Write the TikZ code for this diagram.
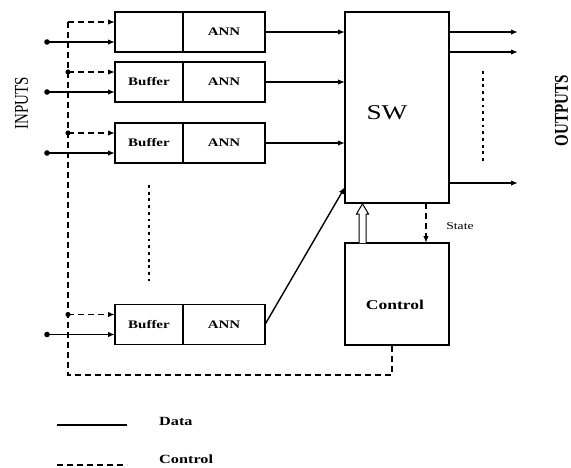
\documentclass[tikz,border=0pt]{standalone}
\usepackage{fontspec}
\setmainfont{Liberation Serif}
\newfontfamily\stf[FakeStretch=1.3]{Liberation Serif}
\usetikzlibrary{arrows.meta}
\begin{document}
\begin{tikzpicture}[x=1pt,y=-1pt,
  blk/.style={draw,line width=1.5pt,minimum height=40pt,inner sep=0pt,outer sep=0pt},
  bigblk/.style={draw,line width=1.5pt,inner sep=0pt,outer sep=0pt},
  lbl/.style={font=\stf\bfseries\fontsize{11.5}{12}\selectfont},
  dataline/.style={line width=1.4pt},
  ctrlline/.style={line width=1.4pt,dash pattern=on 6pt off 4pt},
  arr/.style={-{Latex[length=7pt,width=5.5pt]}},
  dotcol/.style={line width=2.8pt,dash pattern=on 2.8pt off 3.9pt},
  jdot/.style={fill=black}]
\useasboundingbox (0,0) rectangle (571,467);
% rows
\foreach \i/\c in {1/32,2/82,3/143,4/324.5}{
  \node[blk,minimum width=68pt] (buf\i) at (149,\c) {};
  \node[blk,minimum width=82pt] (ann\i) at (224,\c) {};
  \coordinate (in\i) at (47,\c+10);
  \coordinate (d\i) at (68,\c-10);
}
\foreach \i in {2,3,4}{ \node[lbl] (bt\i) at (buf\i) {Buffer}; }
\foreach \i in {1,2,3,4}{ \node[lbl] (at\i) at (ann\i) {ANN}; }
% switch and control
\node[bigblk,minimum width=104pt,minimum height=191pt] (sw) at (397,107.5) {};
\node[font=\stf\fontsize{21}{24}\selectfont] (swt) at (387,113) {SW};
\node[bigblk,minimum width=104pt,minimum height=102pt] (ctrl) at (397,294) {};
\node[font=\stf\bfseries\fontsize{13.5}{15}\selectfont] (ct) at (395,305) {Control};
% inputs
\foreach \i in {1,2,3,4}{
  \draw[dataline,arr] (in\i) -- (in\i -| buf\i.west);
  \fill (in\i) circle (2.8pt);
  \draw[ctrlline,arr] (d\i) -- (d\i -| buf\i.west);
}
\foreach \i in {2,3,4}{ \fill (d\i) circle (2.6pt); }
% control bus
\coordinate (cbl) at (68,375);
\coordinate (cbr) at (392,375);
\draw[ctrlline] (d1) -- (cbl) -- (cbr) -- (cbr |- ctrl.south);
% ANN to SW
\foreach \i in {1,2,3}{ \draw[dataline,arr] (ann\i.east) -- (ann\i.east -| sw.west); }
\coordinate (sw4) at (345,187);
\draw[dataline,arr] (ann4.east) -- (sw4);
% outputs
\foreach \i/\y in {1/32,2/52,3/183}{
  \coordinate (o\i) at (518,\y);
  \draw[dataline,arr] (o\i -| sw.east) -- (o\i);
}
% dotted continuation marks
\coordinate (dl1) at (149,185); \coordinate (dl2) at (149,281);
\draw[dotcol] (dl1) -- (dl2);
\coordinate (dr1) at (483,71); \coordinate (dr2) at (483,162);
\draw[dotcol] (dr1) -- (dr2);
% hollow arrow control -> SW
\draw[line width=1pt,fill=white] (359,243) -- (359,214) -- (356.5,214) -- (362.5,203.8) -- (368.5,214) -- (366,214) -- (366,243);
% state
\coordinate (stx) at (426,225);
\draw[ctrlline,arr] (sw.south -| stx) -- (ctrl.north -| stx);
\node[font=\stf\fontsize{10.5}{12}\selectfont] (stt) at (460,226) {State};
% side labels
\node[rotate=90,yscale=1.3,font=\fontsize{15}{16}\selectfont] (inp) at (21.5,103) {INPUTS};
\node[rotate=90,yscale=1.3,font=\bfseries\fontsize{15}{16}\selectfont] (outp) at (561.5,111) {OUTPUTS};
% legend
\coordinate (l1a) at (57,425); \coordinate (l1b) at (127,425);
\coordinate (l2a) at (57,465); \coordinate (l2b) at (127,465);
\draw[dataline,line width=1.7pt] (l1a) -- (l1b);
\draw[ctrlline,line width=1.7pt] (l2a) -- (l2b);
\node[font=\stf\bfseries\fontsize{12.5}{14}\selectfont,anchor=west,inner sep=0pt] (ld) at (159,421) {Data};
\node[font=\stf\bfseries\fontsize{12.5}{14}\selectfont,anchor=west,inner sep=0pt] (lc) at (159,459) {Control};
\end{tikzpicture}
\end{document}
